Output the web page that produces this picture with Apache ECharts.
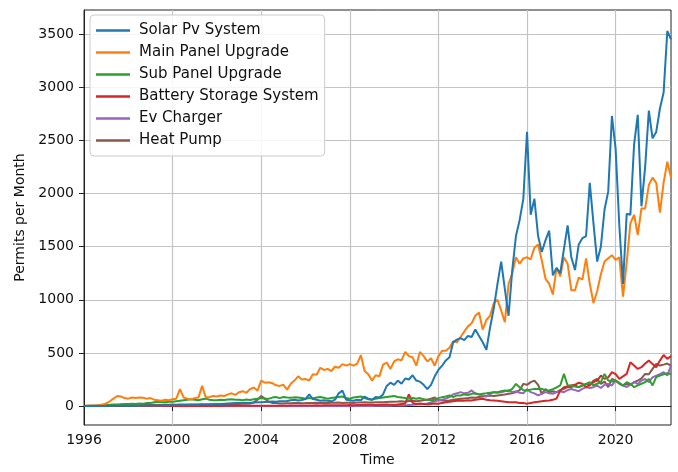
<!DOCTYPE html>
<html>
<head>
<meta charset="utf-8">
<script src="https://cdn.jsdelivr.net/npm/echarts@6/dist/echarts.min.js"></script>
<style>
  html, body { margin: 0; padding: 0; background: #fff; }
  #chart { width: 678px; height: 472px; }
</style>
</head>
<body>
<div id="chart"></div>
<script>
// one value every two months, starting January 1996
const startYear = 1996;
const monthsPerStep = 2;

const seriesNames = ['Solar Pv System', 'Main Panel Upgrade', 'Sub Panel Upgrade',
  'Battery Storage System', 'Ev Charger', 'Heat Pump'];

const solarPv = [
  0, 0, 0, 0, 1, 1,               // 1996
  1, 2, 2, 2, 2, 3,               // 1997
  3, 3, 4, 4, 5, 5,               // 1998
  5, 6, 6, 7, 7, 8,               // 1999
  8, 9, 10, 10, 11, 12,           // 2000
  12, 13, 14, 15, 16, 17,         // 2001
  18, 20, 22, 24, 26, 28,         // 2002
  28, 30, 32, 30, 34, 36,         // 2003
  35, 38, 40, 42, 40, 45,         // 2004
  45, 48, 55, 60, 52, 58,         // 2005
  66, 110, 66, 60, 50, 55,        // 2006
  50, 45, 60, 120, 145, 60,       // 2007
  55, 50, 60, 55, 90, 70,         // 2008
  60, 85, 80, 110, 190, 220,      // 2009
  200, 240, 210, 260, 250, 290,   // 2010
  240, 230, 200, 160, 200, 280,   // 2011
  340, 380, 430, 460, 600, 625,   // 2012
  640, 620, 660, 650, 720, 660,   // 2013
  600, 530, 740, 920, 1150, 1360, // 2014
  1100, 850, 1280, 1600, 1750, 1950, // 2015
  2580, 1800, 1950, 1600, 1450, 1560, // 2016
  1650, 1230, 1300, 1250, 1480, 1700, // 2017
  1400, 1280, 1520, 1580, 1600, 2100, // 2018
  1720, 1360, 1500, 1850, 2020, 2730, // 2019
  2420, 1700, 1150, 1810, 1800, 2460, // 2020
  2740, 1880, 2250, 2780, 2520, 2580, // 2021
  2800, 2950, 3530, 3450              // 2022
];

const mainPanel = [
  0, 2, 3, 5, 8, 15,
  25, 45, 70, 95, 90, 75,
  70, 80, 75, 80, 78, 70,
  75, 60, 55, 50, 60, 55,
  65, 70, 160, 80, 70, 65,
  75, 80, 190, 80, 85, 95,
  90, 100, 95, 110, 120, 105,
  130, 140, 125, 160, 175, 145,
  240, 220, 225, 215, 195, 190,
  200, 155, 210, 240, 280, 250,
  255, 240, 300, 295, 360, 340,
  350, 330, 370, 360, 395, 380,
  395, 380, 400, 480, 330, 300,
  240, 290, 280, 390, 410, 350,
  420, 440, 430, 510, 470, 460,
  380, 510, 470, 420, 450, 380,
  470, 520, 520, 550, 610, 600,
  650, 700, 750, 780, 850, 880,
  720, 810, 850, 970, 1000, 900,
  790, 1150, 1250, 1400, 1340, 1390,
  1400, 1380, 1490, 1520, 1370, 1200,
  1150, 1050, 1300, 1220, 1400, 1340,
  1090, 1090, 1210, 1190, 1390, 1150,
  970, 1080, 1240, 1360, 1390, 1420,
  1375, 1400, 1030, 1350, 1720, 1800,
  1610, 1860, 1860, 2080, 2150, 2100,
  1820, 2100, 2300, 2150
];

const subPanel = [
  0, 0, 2, 3, 5, 8,
  10, 12, 15, 15, 18, 20,
  20, 22, 20, 25, 22, 28,
  30, 35, 40, 38, 35, 40,
  40, 45, 50, 55, 60, 65,
  60, 55, 65, 70, 60, 55,
  55, 60, 58, 62, 65, 60,
  60, 55, 62, 58, 65, 70,
  75, 70, 68, 80, 85, 75,
  85, 80, 78, 82, 80, 75,
  70, 75, 72, 80, 85, 78,
  70, 75, 80, 85, 90, 75,
  70, 80, 85, 90, 75, 65,
  60, 70, 75, 80, 85, 90,
  95, 85, 80, 75, 70, 75,
  70, 75, 65, 60, 55, 60,
  75, 84, 90, 100, 85, 100,
  100, 110, 105, 115, 120, 110,
  116, 120, 125, 130, 131, 140,
  147, 140, 162, 209, 178, 150,
  147, 155, 162, 160, 162, 150,
  147, 160, 175, 194, 303, 194,
  194, 185, 178, 195, 209, 225,
  194, 210, 225, 303, 240, 230,
  240, 215, 194, 225, 209, 178,
  194, 210, 225, 256, 194, 272,
  287, 300, 310, 300
];

const batteryStorage = [
  0, 0, 0, 0, 0, 0,
  0, 0, 0, 0, 0, 0,
  0, 0, 0, 0, 0, 0,
  0, 0, 0, 0, 0, 0,
  0, 0, 0, 1, 1, 1,
  1, 1, 1, 1, 1, 1,
  1, 1, 2, 2, 2, 2,
  2, 2, 2, 3, 3, 3,
  3, 3, 3, 4, 4, 4,
  4, 4, 5, 5, 5, 5,
  5, 6, 6, 7, 6, 7,
  8, 7, 8, 9, 8, 9,
  10, 9, 10, 11, 10, 12,
  12, 11, 13, 12, 14, 13,
  10, 15, 20, 25, 110, 30,
  20, 25, 20, 15, 20, 25,
  22, 30, 37, 40, 45, 50,
  53, 50, 55, 53, 60, 65,
  69, 60, 55, 53, 50, 45,
  40, 37, 35, 37, 30, 28,
  22, 30, 37, 40, 45, 50,
  53, 60, 70, 147, 178, 185,
  194, 200, 220, 210, 180, 195,
  225, 240, 287, 256, 270, 319,
  300, 256, 280, 303, 412, 381,
  350, 366, 400, 428, 397, 366,
  428, 481, 444, 470
];

const evCharger = [
  0, 0, 0, 0, 0, 0,
  0, 0, 0, 0, 0, 0,
  0, 0, 0, 0, 0, 0,
  0, 0, 0, 0, 0, 0,
  0, 0, 0, 0, 0, 0,
  0, 0, 0, 0, 0, 0,
  0, 0, 0, 0, 0, 0,
  0, 0, 0, 0, 0, 0,
  0, 0, 0, 0, 0, 0,
  0, 0, 0, 0, 0, 0,
  0, 0, 0, 0, 0, 0,
  0, 0, 0, 0, 0, 0,
  0, 0, 0, 0, 1, 1,
  1, 2, 2, 3, 3, 4,
  5, 5, 6, 8, 10, 12,
  15, 18, 20, 25, 35, 45,
  55, 60, 70, 84, 110, 120,
  131, 120, 125, 147, 116, 110,
  100, 90, 116, 131, 125, 131,
  140, 150, 131, 140, 125, 120,
  160, 131, 120, 100, 115, 131,
  120, 116, 131, 140, 131, 150,
  160, 150, 140, 162, 178, 170,
  178, 194, 170, 200, 209, 194,
  240, 220, 194, 180, 200, 225,
  209, 240, 256, 225, 270, 287,
  300, 319, 287, 380
];

const heatPump = [
  2, 3, 3, 4, 5, 5,
  6, 5, 6, 7, 8, 8,
  8, 9, 10, 9, 10, 11,
  10, 12, 11, 12, 13, 12,
  14, 13, 15, 14, 15, 16,
  15, 16, 17, 16, 18, 17,
  18, 17, 19, 20, 18, 20,
  20, 22, 21, 25, 35, 60,
  95, 70, 40, 30, 28, 25,
  25, 27, 26, 28, 30, 27,
  28, 30, 29, 32, 30, 31,
  30, 32, 31, 33, 30, 32,
  32, 30, 34, 33, 35, 34,
  33, 35, 36, 35, 38, 40,
  40, 42, 45, 40, 48, 50,
  45, 50, 55, 60, 70, 80,
  55, 53, 50, 53, 60, 65,
  69, 72, 75, 80, 78, 85,
  90, 95, 100, 95, 100, 105,
  110, 116, 120, 131, 150, 209,
  200, 225, 240, 200, 116, 160,
  131, 140, 131, 150, 162, 178,
  178, 194, 178, 190, 209, 200,
  240, 256, 209, 230, 178, 256,
  240, 209, 194, 210, 200, 225,
  240, 260, 303, 300, 350, 397,
  381, 390, 400, 380
];

const xTickLabels = [1996, 2000, 2004, 2008, 2012, 2016, 2020];
const yTickLabels = [0, 500, 1000, 1500, 2000, 2500, 3000, 3500];

const colors = ['#1f77b4', '#ff7f0e', '#2ca02c', '#d62728', '#9467bd', '#8c564b'];
const allSeries = [solarPv, mainPanel, subPanel, batteryStorage, evCharger, heatPump];
const times = solarPv.map((_, i) => startYear + i * monthsPerStep / 12);

const font = 'DejaVu Sans';
const fontSize = 14;

var myChart = echarts.init(document.getElementById('chart'));
myChart.setOption({
  animation: false,
  color: colors,
  textStyle: { fontFamily: font },
  grid: {
    left: 84, right: 7, top: 10, bottom: 44,
    show: true, borderColor: '#222', borderWidth: 1, backgroundColor: 'transparent'
  },
  legend: {
    orient: 'vertical',
    left: 90, top: 15,
    padding: [8, 6, 8, 6],
    itemGap: 7,
    itemWidth: 34, itemHeight: 2.5,
    icon: 'rect',
    backgroundColor: 'rgba(255,255,255,0.85)',
    borderColor: '#cccccc', borderWidth: 1, borderRadius: 4,
    textStyle: { fontFamily: font, fontSize: 15, lineHeight: 14, color: '#111', padding: [0, 0, 0, 4] },
    data: seriesNames
  },
  xAxis: {
    type: 'value',
    min: startYear,
    max: times[times.length - 1],
    name: 'Time',
    nameLocation: 'middle',
    nameGap: 28,
    nameTextStyle: { fontFamily: font, fontSize: fontSize, color: '#111' },
    axisLine: { show: true, lineStyle: { color: '#222', width: 1 } },
    axisTick: { show: true, length: 5, lineStyle: { color: '#222' }, customValues: xTickLabels },
    axisLabel: { fontFamily: font, fontSize: fontSize, color: '#111', margin: 8, customValues: xTickLabels,
      formatter: v => String(v) },
    splitLine: { show: true, lineStyle: { color: '#c4c4c4', width: 1.2 } }
  },
  yAxis: {
    type: 'value',
    min: -178,
    max: 3727,
    name: 'Permits per Month',
    nameLocation: 'middle',
    nameGap: 53,
    nameTextStyle: { fontFamily: font, fontSize: fontSize, color: '#111' },
    axisLine: { show: true, lineStyle: { color: '#222', width: 1 } },
    axisTick: { show: true, length: 5, lineStyle: { color: '#222' }, customValues: yTickLabels },
    axisLabel: { fontFamily: font, fontSize: fontSize, color: '#111', margin: 10, customValues: yTickLabels,
      formatter: v => String(v) },
    splitLine: { show: true, lineStyle: { color: '#c4c4c4', width: 1.2 } }
  },
  series: allSeries.map((values, k) => ({
    name: seriesNames[k],
    type: 'line',
    symbol: 'none',
    z: 10 - k,
    lineStyle: { width: 2, color: colors[k] },
    data: times.map((t, i) => [t, values[i]])
  }))
});
</script>
</body>
</html>
